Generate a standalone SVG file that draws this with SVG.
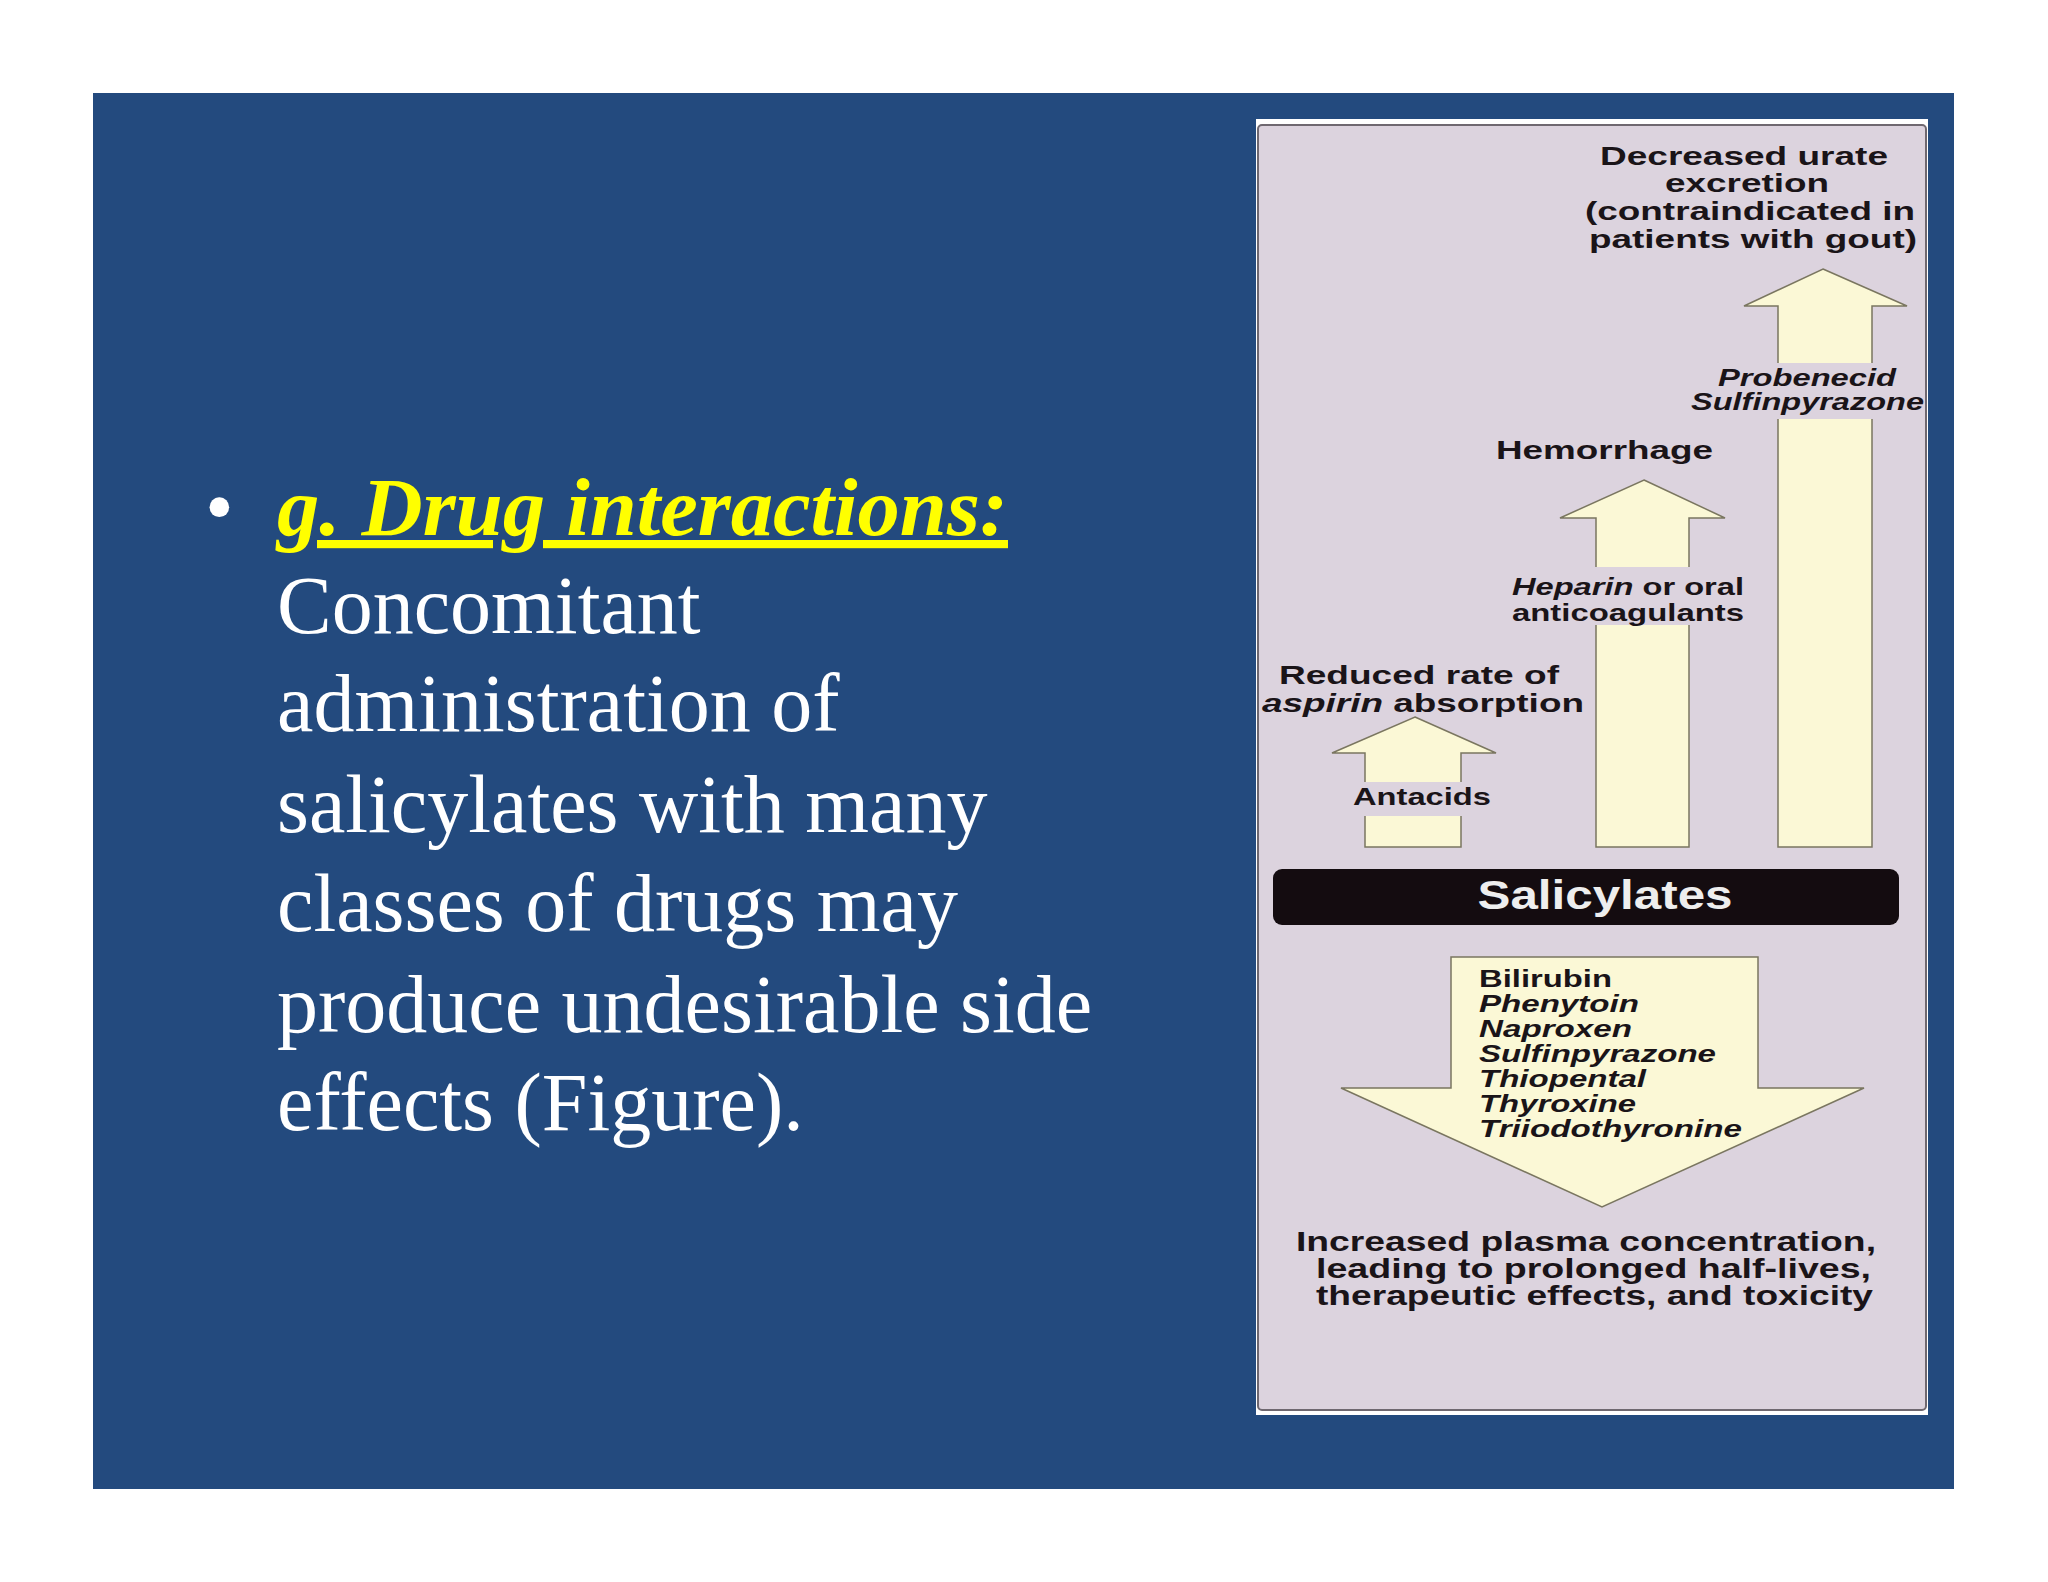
<svg xmlns="http://www.w3.org/2000/svg" width="2048" height="1582" viewBox="0 0 2048 1582">
<style>
.t{font-family:"Liberation Serif",serif;font-size:82px;fill:#fff}
.f{font-family:"Liberation Sans",Arial,sans-serif;font-weight:bold;fill:#1a1418}
.i{font-style:italic}
.arr{fill:#fbf8d6;stroke:#7a7660;stroke-width:1.5}
</style>
<rect width="2048" height="1582" fill="#fff"/>
<rect x="93" y="93" width="1861" height="1396" fill="#234a7e"/>
<g id="text">
<text x="205" y="535" class="t">•</text>
<text x="277" y="535" class="t" textLength="731" lengthAdjust="spacingAndGlyphs" style="fill:#ffff00;font-weight:bold;font-style:italic;text-decoration:underline">g. Drug interactions:</text>
<text x="277" y="633" class="t">Concomitant</text>
<text x="277" y="731" class="t">administration of</text>
<text x="277" y="832" class="t">salicylates with many</text>
<text x="277" y="931" class="t">classes of drugs may</text>
<text x="277" y="1032" class="t">produce undesirable side</text>
<text x="277" y="1130" class="t">effects (Figure).</text>
</g>
<g id="panel">
<rect x="1256" y="119" width="672" height="1296" fill="#fff"/>
<rect x="1258" y="125" width="668" height="1285" rx="4" fill="#dcd3de" stroke="#6f6870" stroke-width="2"/>
</g>
<g id="connectors">
<polygon class="arr" points="1415,717 1496,753 1461,753 1461,847 1365,847 1365,753 1332,753"/>
<polygon class="arr" points="1644,480 1725,518 1689,518 1689,847 1596,847 1596,518 1560,518"/>
<polygon class="arr" points="1823,269 1907,306 1872,306 1872,847 1778,847 1778,306 1744,306"/>
<polygon class="arr" points="1451,957 1758,957 1758,1088 1864,1088 1602,1207 1341,1088 1451,1088"/>
<rect x="1340" y="782" width="160" height="34" fill="#dcd3de"/>
<rect x="1505" y="567" width="250" height="58" fill="#dcd3de"/>
<rect x="1685" y="363" width="240" height="56" fill="#dcd3de"/>
</g>
<g id="salicylates">
<rect x="1273" y="869" width="626" height="56" rx="9" fill="#140c10"/>
<text x="1605" y="909" text-anchor="middle" textLength="255" lengthAdjust="spacingAndGlyphs" style="font-family:'Liberation Sans',Arial,sans-serif;font-weight:bold;font-size:40px;fill:#eee">Salicylates</text>
</g>
<g id="labels" class="f">
<g font-size="26" text-anchor="middle">
<text x="1744" y="165" textLength="288" lengthAdjust="spacingAndGlyphs">Decreased urate</text>
<text x="1747" y="192" textLength="164" lengthAdjust="spacingAndGlyphs">excretion</text>
<text x="1750" y="220" textLength="330" lengthAdjust="spacingAndGlyphs">(contraindicated in</text>
<text x="1753" y="248" textLength="328" lengthAdjust="spacingAndGlyphs">patients with gout)</text>
</g>
<g font-size="24" class="i">
<text x="1718" y="386" textLength="178" lengthAdjust="spacingAndGlyphs">Probenecid</text>
<text x="1691" y="410" textLength="233" lengthAdjust="spacingAndGlyphs">Sulfinpyrazone</text>
</g>
<text x="1496" y="459" font-size="26" textLength="217" lengthAdjust="spacingAndGlyphs">Hemorrhage</text>
<text x="1512" y="595" font-size="24" textLength="232" lengthAdjust="spacingAndGlyphs"><tspan class="i">Heparin</tspan> or oral</text>
<text x="1512" y="621" font-size="24" textLength="232" lengthAdjust="spacingAndGlyphs">anticoagulants</text>
<text x="1279" y="684" font-size="26" textLength="280" lengthAdjust="spacingAndGlyphs">Reduced rate of</text>
<text x="1262" y="712" font-size="26" textLength="322" lengthAdjust="spacingAndGlyphs"><tspan class="i">aspirin</tspan> absorption</text>
<text x="1353" y="805" font-size="24" textLength="138" lengthAdjust="spacingAndGlyphs">Antacids</text>
<g font-size="23" lengthAdjust="spacingAndGlyphs">
<text x="1479" y="987" textLength="133" lengthAdjust="spacingAndGlyphs">Bilirubin</text>
<text x="1479" y="1012" class="i" textLength="160" lengthAdjust="spacingAndGlyphs">Phenytoin</text>
<text x="1479" y="1037" class="i" textLength="153" lengthAdjust="spacingAndGlyphs">Naproxen</text>
<text x="1479" y="1062" class="i" textLength="237" lengthAdjust="spacingAndGlyphs">Sulfinpyrazone</text>
<text x="1479" y="1087" class="i" textLength="167" lengthAdjust="spacingAndGlyphs">Thiopental</text>
<text x="1479" y="1112" class="i" textLength="157" lengthAdjust="spacingAndGlyphs">Thyroxine</text>
<text x="1479" y="1137" class="i" textLength="263" lengthAdjust="spacingAndGlyphs">Triiodothyronine</text>
</g>
<g font-size="27">
<text x="1296" y="1251" textLength="580" lengthAdjust="spacingAndGlyphs">Increased plasma concentration,</text>
<text x="1316" y="1278" textLength="555" lengthAdjust="spacingAndGlyphs">leading to prolonged half-lives,</text>
<text x="1316" y="1305" textLength="557" lengthAdjust="spacingAndGlyphs">therapeutic effects, and toxicity</text>
</g>
</g>
</svg>
